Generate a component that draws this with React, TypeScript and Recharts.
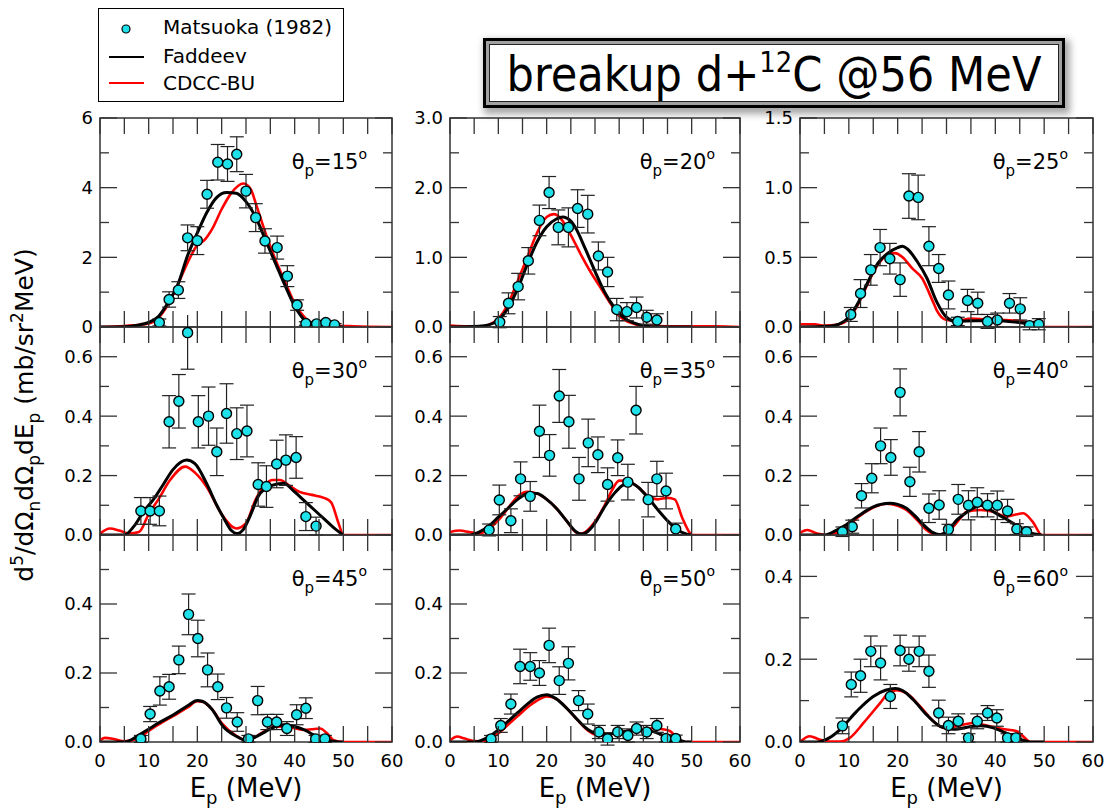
import React from 'react';
import { ComposedChart, Line, Scatter, ErrorBar, XAxis, YAxis, ReferenceArea } from 'recharts';

// [E_p (MeV), cross section, error]
const exp15 = [
  [12.2, 0.13, 0.1], [14.2, 0.79, 0.22], [16.1, 1.06, 0.24], [18.0, 2.56, 0.37], [20.0, 2.48, 0.4],
  [22.0, 3.81, 0.4], [24.2, 4.73, 0.51], [26.2, 4.68, 0.5], [28.1, 4.96, 0.5], [30.0, 3.9, 0.48],
  [32.0, 3.14, 0.4], [33.9, 2.47, 0.35], [36.4, 2.28, 0.33], [38.5, 1.46, 0.3], [40.5, 0.63, 0.15],
  [42.3, 0.1, 0.05], [44.5, 0.09, 0.05], [46.4, 0.13, 0.05], [48.2, 0.06, 0.04],
];
const exp20 = [
  [10.3, 0.07, 0.08], [12.1, 0.34, 0.15], [14.1, 0.58, 0.19], [16.2, 0.95, 0.19], [18.5, 1.53, 0.22],
  [20.5, 1.93, 0.23], [22.4, 1.43, 0.25], [24.5, 1.43, 0.28], [26.4, 1.7, 0.27], [28.5, 1.62, 0.27],
  [30.7, 1.02, 0.2], [32.6, 0.79, 0.21], [34.5, 0.25, 0.16], [36.6, 0.22, 0.13], [38.6, 0.28, 0.15],
  [40.7, 0.14, 0.1], [42.8, 0.1, 0.09],
];
const exp25 = [
  [10.4, 0.09, 0.05], [12.4, 0.24, 0.1], [14.5, 0.41, 0.11], [16.4, 0.57, 0.13], [18.4, 0.49, 0.11],
  [20.5, 0.34, 0.12], [22.3, 0.94, 0.16], [24.2, 0.93, 0.16], [26.4, 0.58, 0.14], [28.4, 0.42, 0.1],
  [30.4, 0.23, 0.1], [32.3, 0.04, 0.03], [34.3, 0.19, 0.08], [36.4, 0.17, 0.08], [38.4, 0.04, 0.05],
  [40.4, 0.05, 0.05], [42.9, 0.17, 0.07], [45.1, 0.13, 0.08], [47.0, 0.01, 0.03], [48.9, 0.02, 0.04],
];
const exp30 = [
  [8.4, 0.081, 0.045], [10.3, 0.081, 0.045], [12.2, 0.081, 0.05], [14.2, 0.381, 0.088], [16.2, 0.45, 0.09],
  [18.0, 0.681, 0.123], [20.2, 0.381, 0.088], [22.3, 0.4, 0.098], [24.0, 0.28, 0.08], [26.0, 0.409, 0.1],
  [28.1, 0.341, 0.087], [30.2, 0.35, 0.087], [32.5, 0.17, 0.073], [34.2, 0.163, 0.07], [36.3, 0.239, 0.08],
  [38.2, 0.252, 0.085], [40.3, 0.261, 0.07], [42.3, 0.062, 0.047], [44.4, 0.03, 0.03],
];
const exp35 = [
  [8.1, 0.017, 0.02], [10.2, 0.118, 0.05], [12.6, 0.048, 0.04], [14.6, 0.189, 0.057], [16.6, 0.13, 0.05],
  [18.5, 0.349, 0.088], [20.6, 0.268, 0.07], [22.6, 0.468, 0.089], [24.6, 0.381, 0.089], [26.7, 0.189, 0.072],
  [28.6, 0.31, 0.08], [30.6, 0.27, 0.06], [32.6, 0.17, 0.056], [34.7, 0.26, 0.06], [36.8, 0.178, 0.06],
  [38.5, 0.42, 0.08], [41.0, 0.119, 0.058], [42.8, 0.189, 0.059], [44.7, 0.148, 0.06], [46.7, 0.02, 0.02],
];
const exp40 = [
  [8.7, 0.011, 0.016], [10.7, 0.028, 0.022], [12.6, 0.132, 0.041], [14.7, 0.191, 0.049], [16.5, 0.3, 0.06],
  [18.6, 0.261, 0.06], [20.5, 0.48, 0.079], [22.5, 0.179, 0.049], [24.4, 0.28, 0.068], [26.4, 0.09, 0.048],
  [28.5, 0.101, 0.048], [30.4, 0.019, 0.017], [32.4, 0.12, 0.05], [34.5, 0.1, 0.049], [36.3, 0.11, 0.049],
  [38.4, 0.1, 0.039], [40.4, 0.1, 0.048], [42.5, 0.081, 0.039], [44.4, 0.02, 0.018], [46.4, 0.011, 0.016],
];
const exp45 = [
  [8.4, 0.009, 0.01], [10.3, 0.081, 0.022], [12.3, 0.148, 0.041], [14.2, 0.16, 0.036], [16.2, 0.238, 0.04],
  [18.2, 0.37, 0.059], [20.1, 0.3, 0.053], [22.1, 0.209, 0.049], [24.2, 0.16, 0.037], [26.0, 0.099, 0.03],
  [28.2, 0.058, 0.027], [30.5, 0.009, 0.01], [32.4, 0.12, 0.041], [34.4, 0.058, 0.022], [36.3, 0.058, 0.022],
  [38.4, 0.039, 0.02], [40.4, 0.079, 0.029], [42.3, 0.098, 0.03], [44.3, 0.009, 0.01], [46.2, 0.009, 0.01],
];
const exp50 = [
  [8.5, 0.009, 0.01], [10.5, 0.048, 0.02], [12.6, 0.11, 0.029], [14.5, 0.219, 0.05], [16.6, 0.219, 0.04],
  [18.5, 0.2, 0.036], [20.5, 0.28, 0.05], [22.6, 0.178, 0.04], [24.5, 0.228, 0.048], [26.6, 0.12, 0.029],
  [28.5, 0.081, 0.029], [30.8, 0.029, 0.019], [32.6, 0.009, 0.018], [34.7, 0.029, 0.019], [36.8, 0.019, 0.019],
  [38.6, 0.039, 0.019], [40.7, 0.029, 0.019], [42.8, 0.048, 0.02], [44.7, 0.01, 0.01], [46.7, 0.01, 0.01],
];
const exp60 = [
  [8.7, 0.039, 0.019], [10.5, 0.139, 0.03], [12.4, 0.16, 0.04], [14.5, 0.219, 0.037], [16.5, 0.191, 0.041],
  [18.5, 0.11, 0.029], [20.5, 0.221, 0.037], [22.3, 0.2, 0.029], [24.4, 0.219, 0.037], [26.4, 0.171, 0.039],
  [28.4, 0.07, 0.031], [30.4, 0.04, 0.02], [32.4, 0.05, 0.018], [34.5, 0.01, 0.01], [36.3, 0.05, 0.018],
  [38.4, 0.07, 0.018], [40.3, 0.058, 0.02], [42.5, 0.01, 0.01], [44.2, 0.01, 0.01],
];

// Faddeev calculation [E_p, value]
const fad15 = [
  [0, 0], [5, 0.01], [8, 0.06], [10, 0.13], [12, 0.3], [14, 0.7], [16, 1.22], [18, 2.05], [20, 2.7],
  [22, 3.3], [24, 3.72], [26, 3.86], [28, 3.84], [30, 3.6], [32, 3.15], [34, 2.5], [36, 1.85], [38, 1.2],
  [40, 0.6], [42, 0.2], [44, 0.06], [46, 0.02], [48, 0], [50, 0],
];
const fad20 = [
  [0, 0], [6, 0.01], [8, 0.03], [10, 0.1], [12, 0.27], [14, 0.55], [16, 0.9], [18, 1.22], [20, 1.44],
  [22, 1.55], [23.3, 1.58], [25, 1.52], [26, 1.42], [28, 1.12], [30, 0.8], [32, 0.5], [34, 0.28],
  [36, 0.13], [38, 0.06], [40, 0.02], [43, 0], [50, 0],
];
const fad25 = [
  [0, 0], [6, 0.005], [8, 0.02], [10, 0.07], [12, 0.18], [14, 0.33], [16, 0.46], [18, 0.53], [20, 0.57],
  [21, 0.58], [22, 0.56], [24, 0.47], [26, 0.35], [28, 0.18], [30, 0.07], [32, 0.04], [36, 0.045],
  [40, 0.045], [44, 0.035], [47, 0.02], [49, 0], [50, 0],
];
const fad30 = [
  [0, 0], [5, 0], [7, 0.03], [9, 0.08], [11, 0.12], [13, 0.17], [15, 0.22], [17.8, 0.252], [19.5, 0.24],
  [22, 0.17], [24, 0.1], [25.5, 0.055], [27, 0.015], [28.1, 0.005], [29.5, 0.02], [31, 0.07], [32.5, 0.13],
  [35, 0.165], [37.7, 0.174], [40, 0.145], [42, 0.115], [44, 0.085], [46, 0.055], [48, 0.025], [50, 0],
];
const fad35 = [
  [0, 0], [4, 0], [6, 0.01], [8, 0.03], [10, 0.06], [12, 0.09], [14, 0.12], [16.2, 0.14], [18, 0.14],
  [20, 0.12], [22, 0.09], [24, 0.05], [26, 0.012], [27.2, 0.003], [28.5, 0.012], [30, 0.04], [32, 0.095],
  [34, 0.14], [35.5, 0.165], [37.2, 0.176], [39, 0.16], [41, 0.125], [43, 0.085], [45, 0.048], [47, 0.018],
  [49, 0.003], [50, 0],
];
const fad40 = [
  [0, 0], [5, 0], [7, 0.012], [9, 0.03], [12, 0.065], [15, 0.095], [18.4, 0.107], [20, 0.103], [21.8, 0.09],
  [23.5, 0.065], [25.3, 0.034], [27, 0.01], [28.7, 0.001], [30.5, 0.018], [32.1, 0.05], [34, 0.075],
  [35.5, 0.09], [36.9, 0.099], [38, 0.095], [39.6, 0.078], [42.3, 0.053], [44, 0.035], [45.7, 0.017],
  [47.5, 0.005], [49.5, 0],
];
const fad45 = [
  [0, 0], [5, 0], [8, 0.02], [10.3, 0.04], [12, 0.055], [15.1, 0.079], [18, 0.105], [20, 0.12], [21, 0.118],
  [23, 0.095], [25.3, 0.045], [28.1, 0.016], [30.1, 0.004], [32, 0.015], [34, 0.03], [36, 0.045],
  [37.7, 0.05], [40, 0.045], [42, 0.035], [44, 0.02], [46, 0.008], [48, 0.002], [49, 0], [50, 0],
];
const fad50 = [
  [0, 0], [5, 0], [8, 0.015], [10, 0.035], [12, 0.06], [14, 0.085], [16, 0.11], [18, 0.13], [20, 0.137],
  [22, 0.125], [24, 0.1], [26, 0.07], [28, 0.042], [30, 0.026], [32, 0.022], [34, 0.025], [36, 0.03],
  [38, 0.035], [40, 0.035], [42, 0.03], [44, 0.02], [46, 0.01], [48, 0.003], [49, 0], [50, 0],
];
const fad60 = [
  [0, 0], [3.5, 0], [6, 0.01], [8.2, 0.03], [11.6, 0.074], [15, 0.11], [17.5, 0.125], [19.5, 0.129],
  [21, 0.124], [23.2, 0.102], [25.9, 0.066], [28.7, 0.038], [31.4, 0.031], [35.5, 0.038], [37, 0.039],
  [39.6, 0.034], [41.5, 0.025], [43.7, 0.014], [45.5, 0.005], [47.1, 0], [50, 0],
];

// CDCC-BU calculation [E_p, value]
const cdcc15 = [
  [0, 0], [5, 0.03], [10, 0.1], [12, 0.26], [14, 0.65], [16, 1.22], [18, 1.85], [20, 2.35], [21.5, 2.5],
  [23, 2.8], [25, 3.38], [27, 3.85], [29.5, 4.12], [31, 3.95], [32, 3.55], [34, 2.7], [36, 1.95], [38, 1.3],
  [40, 0.68], [42, 0.28], [44, 0.08], [46, 0.04], [50, 0.03], [52, 0.02], [60, 0],
];
const cdcc20 = [
  [0, 0.02], [3, 0.01], [6, 0], [8, 0.03], [10, 0.12], [12, 0.33], [14, 0.66], [16, 1.0], [18, 1.35],
  [20, 1.58], [21.5, 1.62], [23, 1.55], [25, 1.32], [27, 1.05], [29, 0.8], [31, 0.58], [33, 0.36],
  [35, 0.16], [37, 0.07], [40, 0.02], [45, 0.01], [55, 0.01], [60, 0],
];
const cdcc25 = [
  [0, 0.02], [3, 0.02], [5, 0.01], [8, 0.02], [10, 0.06], [12, 0.17], [14, 0.32], [16, 0.45], [18, 0.52],
  [19.5, 0.53], [21, 0.5], [23, 0.42], [25, 0.35], [27, 0.2], [28, 0.12], [30, 0.05], [32, 0.045],
  [35, 0.06], [38, 0.055], [42, 0.05], [45, 0.045], [47, 0.03], [48.5, 0.01], [50, 0], [60, 0],
];
const cdcc30 = [
  [0, 0.005], [2, 0.022], [4, 0.015], [6, 0.005], [8, 0.01], [10, 0.07], [12, 0.12], [14.4, 0.185],
  [17.5, 0.23], [19.5, 0.21], [22, 0.16], [25, 0.07], [28, 0.022], [30, 0.04], [32, 0.12], [35.5, 0.185],
  [37, 0.185], [39, 0.165], [41, 0.145], [43.5, 0.135], [46, 0.125], [47.5, 0.11], [49, 0.04], [50, 0],
  [60, 0],
];
const cdcc35 = [
  [0, 0.01], [2, 0.015], [4, 0.01], [6, 0.005], [8, 0.02], [10, 0.05], [12, 0.09], [14, 0.13], [16, 0.145],
  [18, 0.14], [20, 0.12], [22, 0.09], [24, 0.05], [26, 0.01], [27, 0.005], [28, 0.01], [30, 0.045],
  [32, 0.1], [33.5, 0.15], [35, 0.183], [37, 0.18], [39, 0.16], [41, 0.13], [43, 0.12], [45, 0.125],
  [46.5, 0.12], [48, 0.06], [49.5, 0.01], [50, 0], [60, 0],
];
const cdcc40 = [
  [0, 0.008], [1.5, 0.017], [3.5, 0.005], [5.5, 0], [7, 0.005], [9.6, 0.028], [12.3, 0.065], [15, 0.092],
  [17.7, 0.105], [20, 0.098], [21.8, 0.084], [24, 0.05], [25.9, 0.017], [28, 0.001], [30, 0.01],
  [31.4, 0.028], [33, 0.06], [34.1, 0.078], [36.9, 0.084], [39.6, 0.078], [42.3, 0.062], [44, 0.068],
  [45.7, 0.073], [47.8, 0.041], [49.5, 0], [60, 0],
];
const cdcc45 = [
  [0, 0.005], [1, 0.012], [3, 0.008], [5, 0.002], [8, 0.012], [10, 0.032], [12, 0.05], [15, 0.075],
  [18, 0.1], [20, 0.118], [21, 0.117], [23, 0.095], [25, 0.055], [28, 0.018], [30, 0.005], [32, 0.015],
  [34, 0.033], [36, 0.044], [38, 0.045], [40, 0.04], [42, 0.035], [43.5, 0.037], [45.2, 0.039], [47, 0.02],
  [48, 0.005], [50, 0], [60, 0],
];
const cdcc50 = [
  [0, 0.005], [1.5, 0.016], [3, 0.01], [5, 0.003], [7, 0.002], [8, 0.008], [10, 0.025], [12, 0.05],
  [14, 0.075], [16, 0.1], [18, 0.12], [20, 0.132], [22, 0.125], [24, 0.1], [26, 0.07], [28, 0.04],
  [30, 0.022], [32, 0.02], [34, 0.025], [36, 0.03], [38, 0.035], [40, 0.035], [42, 0.04], [44, 0.037],
  [45.5, 0.032], [47, 0.01], [48, 0], [60, 0],
];
const cdcc60 = [
  [0, 0], [2, 0.014], [4, 0.006], [6, 0.001], [8.2, 0.001], [10.2, 0.01], [13, 0.046], [16.4, 0.094],
  [18.1, 0.118], [19.8, 0.125], [21.8, 0.118], [24.6, 0.086], [27.3, 0.05], [29.4, 0.034], [32, 0.038],
  [35.5, 0.046], [38.9, 0.038], [42.3, 0.03], [44.4, 0.026], [46.4, 0.006], [47.1, 0], [60, 0],
];

const energyTicks = [0, 5, 10, 15, 20, 25, 30, 35, 40, 45, 50, 55, 60];
const energyLabels = [0, 10, 20, 30, 40, 50, 60];
const ticks15 = [0, 1, 2, 3, 4, 5, 6];
const labels15 = [0, 2, 4, 6];
const ticks20 = [0, 0.5, 1, 1.5, 2, 2.5, 3];
const labels20 = [0, 1, 2, 3];
const ticks25 = [0, 0.25, 0.5, 0.75, 1, 1.25, 1.5];
const labels25 = [0, 0.5, 1, 1.5];
const ticksMid = [0, 0.1, 0.2, 0.3, 0.4, 0.5, 0.6, 0.7];
const labelsMid = [0, 0.2, 0.4, 0.6];
const ticksLow = [0, 0.1, 0.2, 0.3, 0.4, 0.5, 0.6];
const ticks60 = [0, 0.1, 0.2, 0.3, 0.4, 0.5];
const labelsLow = [0, 0.2, 0.4];

const panels = [
  { theta: '15', exp: exp15, fad: fad15, cdcc: cdcc15, yMax: 6, ticks: ticks15, labels: labels15, ints: true, col: 0, row: 0 },
  { theta: '20', exp: exp20, fad: fad20, cdcc: cdcc20, yMax: 3, ticks: ticks20, labels: labels20, col: 1, row: 0 },
  { theta: '25', exp: exp25, fad: fad25, cdcc: cdcc25, yMax: 1.5, ticks: ticks25, labels: labels25, col: 2, row: 0 },
  { theta: '30', exp: exp30, fad: fad30, cdcc: cdcc30, yMax: 0.7, ticks: ticksMid, labels: labelsMid, col: 0, row: 1 },
  { theta: '35', exp: exp35, fad: fad35, cdcc: cdcc35, yMax: 0.7, ticks: ticksMid, labels: labelsMid, col: 1, row: 1 },
  { theta: '40', exp: exp40, fad: fad40, cdcc: cdcc40, yMax: 0.7, ticks: ticksMid, labels: labelsMid, col: 2, row: 1 },
  { theta: '45', exp: exp45, fad: fad45, cdcc: cdcc45, yMax: 0.6, ticks: ticksLow, labels: labelsLow, col: 0, row: 2 },
  { theta: '50', exp: exp50, fad: fad50, cdcc: cdcc50, yMax: 0.6, ticks: ticksLow, labels: labelsLow, col: 1, row: 2 },
  { theta: '60', exp: exp60, fad: fad60, cdcc: cdcc60, yMax: 0.5, ticks: ticks60, labels: labelsLow, col: 2, row: 2 },
];

const COL_X = [100, 450, 800];
const COL_W = [292, 290, 293];
const ROW_Y = [118, 327, 535];
const ROW_H = [209, 208, 207];
const AXIS_W = 60;
const AXIS_H = 40;
const PAD = 12;
const FRAME = '#333';
const SANS = '"DejaVu Sans", Verdana, sans-serif';
const CYAN = '#1fe1ea';

function YTick({ x, y, payload, plotW, labels, ints }: any) {
  const v = payload.value;
  const major = labels.indexOf(v) >= 0;
  const len = major ? 17 : 9;
  return (
    <g>
      <line x1={x} y1={y} x2={x + len} y2={y} stroke={FRAME} strokeWidth={1.3} />
      <line x1={x + plotW} y1={y} x2={x + plotW - len} y2={y} stroke={FRAME} strokeWidth={1.3} />
      {major && (
        <text x={x - 7} y={y} dy="0.36em" textAnchor="end" fontSize={18} fontFamily={SANS} fill="#000">
          {ints ? String(v) : v.toFixed(1)}
        </text>
      )}
    </g>
  );
}

function XTick({ x, y, payload, plotH, showLabel }: any) {
  const v = payload.value;
  return (
    <g>
      <line x1={x} y1={y} x2={x} y2={y - 16} stroke={FRAME} strokeWidth={1.3} />
      <line x1={x} y1={y - plotH} x2={x} y2={y - plotH + 16} stroke={FRAME} strokeWidth={1.3} />
      {showLabel && energyLabels.indexOf(v) >= 0 && (
        <text x={x} y={y + 25} textAnchor="middle" fontSize={18} fontFamily={SANS} fill="#000">
          {v}
        </text>
      )}
    </g>
  );
}

const Dot = (props: any) => (
  <circle cx={props.cx} cy={props.cy} r={5} fill={CYAN} stroke="#000" strokeWidth={1.4} />
);

function Panel(p: any) {
  const w = COL_W[p.col];
  const h = ROW_H[p.row];
  const expData = p.exp.map((d: number[]) => ({ x: d[0], y: d[1], err: d[2] }));
  const fadData = p.fad.map((d: number[]) => ({ x: d[0], y: d[1] }));
  const cdccData = p.cdcc.map((d: number[]) => ({ x: d[0], y: d[1] }));
  return (
    <div style={{ position: 'absolute', left: COL_X[p.col] - AXIS_W, top: ROW_Y[p.row] - PAD }}>
      <ComposedChart width={w + AXIS_W + PAD} height={h + PAD + AXIS_H} margin={{ top: PAD, right: PAD, left: 0, bottom: 0 }}>
        <XAxis
          type="number"
          dataKey="x"
          domain={[0, 60]}
          ticks={energyTicks}
          interval={0}
          allowDataOverflow
          axisLine={false}
          tickLine={false}
          tickSize={0}
          tickMargin={0}
          height={AXIS_H}
          tick={(t: any) => <XTick {...t} plotH={h} showLabel={p.row === 2} />}
        />
        <YAxis
          type="number"
          dataKey="y"
          domain={[0, p.yMax]}
          ticks={p.ticks}
          interval={0}
          allowDataOverflow
          axisLine={false}
          tickLine={false}
          tickSize={0}
          tickMargin={0}
          width={AXIS_W}
          tick={(t: any) => <YTick {...t} plotW={w} labels={p.labels} ints={p.ints} />}
        />
        <Line data={cdccData} dataKey="y" type="monotone" stroke="#ff0000" strokeWidth={2.6} dot={false} isAnimationActive={false} />
        <Line data={fadData} dataKey="y" type="monotone" stroke="#000" strokeWidth={3} dot={false} isAnimationActive={false} />
        <Scatter data={expData} dataKey="y" shape={Dot} isAnimationActive={false}>
          <ErrorBar dataKey="err" direction="y" width={7} stroke="#222" strokeWidth={1.2} />
        </Scatter>
        <ReferenceArea x1={0} x2={60} y1={0} y2={p.yMax} fill="none" stroke={FRAME} strokeWidth={1.5} ifOverflow="visible" />
      </ComposedChart>
    </div>
  );
}

export default function App() {
  return (
    <div style={{ position: 'absolute', left: 0, top: 0, width: 1105, height: 808, background: '#fff', overflow: 'hidden' }}>
      {panels.map((p) => (
        <Panel key={p.theta} {...p} />
      ))}
      <svg width={1105} height={808} style={{ position: 'absolute', left: 0, top: 0, pointerEvents: 'none' }}>
        {/* legend */}
        <rect x={98.5} y={8.5} width={245} height={93} fill="#fff" stroke="#000" strokeWidth={1} />
        <circle cx={126} cy={29} r={4} fill={CYAN} stroke="#000" strokeWidth={1.2} />
        <line x1={109} y1={57} x2={144} y2={57} stroke="#000" strokeWidth={2} />
        <line x1={109} y1={83} x2={144} y2={83} stroke="#ff0000" strokeWidth={2} />
        <g fontFamily={SANS} fontSize={20} fill="#000">
          <text x={163} y={34}>Matsuoka (1982)</text>
          <text x={163} y={63}>Faddeev</text>
          <text x={163} y={90}>CDCC-BU</text>
        </g>
        {/* panel labels */}
        {panels.map((p) => (
          <text key={p.theta} x={COL_X[p.col] + COL_W[p.col] - 25} y={ROW_Y[p.row] + 51} textAnchor="end" fontFamily={SANS} fontSize={21} fill="#000">
            θ<tspan dy={7} fontSize={15}>p</tspan>
            <tspan dy={-7}>={p.theta}</tspan>
            <tspan dy={-10} fontSize={14}>o</tspan>
          </text>
        ))}
        {/* axis titles */}
        {COL_X.map((cx, i) => (
          <text key={i} x={cx + COL_W[i] / 2} y={797} textAnchor="middle" fontFamily={SANS} fontSize={26} fill="#000">
            E<tspan dy={7} fontSize={18}>p</tspan>
            <tspan dy={-7}> (MeV)</tspan>
          </text>
        ))}
        <text transform="translate(33,415) rotate(-90)" textAnchor="middle" fontFamily={SANS} fontSize={25} fill="#000">
          d<tspan dy={-10} fontSize={17}>5</tspan>
          <tspan dy={10}>/dΩ</tspan>
          <tspan dy={7} fontSize={17}>n</tspan>
          <tspan dy={-7}>dΩ</tspan>
          <tspan dy={7} fontSize={17}>p</tspan>
          <tspan dy={-7}>dE</tspan>
          <tspan dy={7} fontSize={17}>p</tspan>
          <tspan dy={-7}> (mb/sr</tspan>
          <tspan dy={-10} fontSize={17}>2</tspan>
          <tspan dy={10}>MeV)</tspan>
        </text>
      </svg>
      <div
        style={{
          position: 'absolute',
          left: 483,
          top: 38,
          width: 582,
          height: 70,
          boxSizing: 'border-box',
          border: '3px solid #000',
          background: '#fff',
          boxShadow: 'inset 0 0 0 3px #a0a0a0, inset 0 0 0 4px #222, 3px 4px 7px 2px rgba(0,0,0,0.35)',
          display: 'flex',
          alignItems: 'center',
          justifyContent: 'center',
          fontFamily: '"DejaVu Sans Condensed", "DejaVu Sans", sans-serif',
          fontSize: 48,
          color: '#000',
          lineHeight: 1,
        }}
      >
        <span>
          breakup d+<sup style={{ fontSize: '0.6em', verticalAlign: '0.65em' }}>12</sup>C @56 MeV
        </span>
      </div>
    </div>
  );
}
